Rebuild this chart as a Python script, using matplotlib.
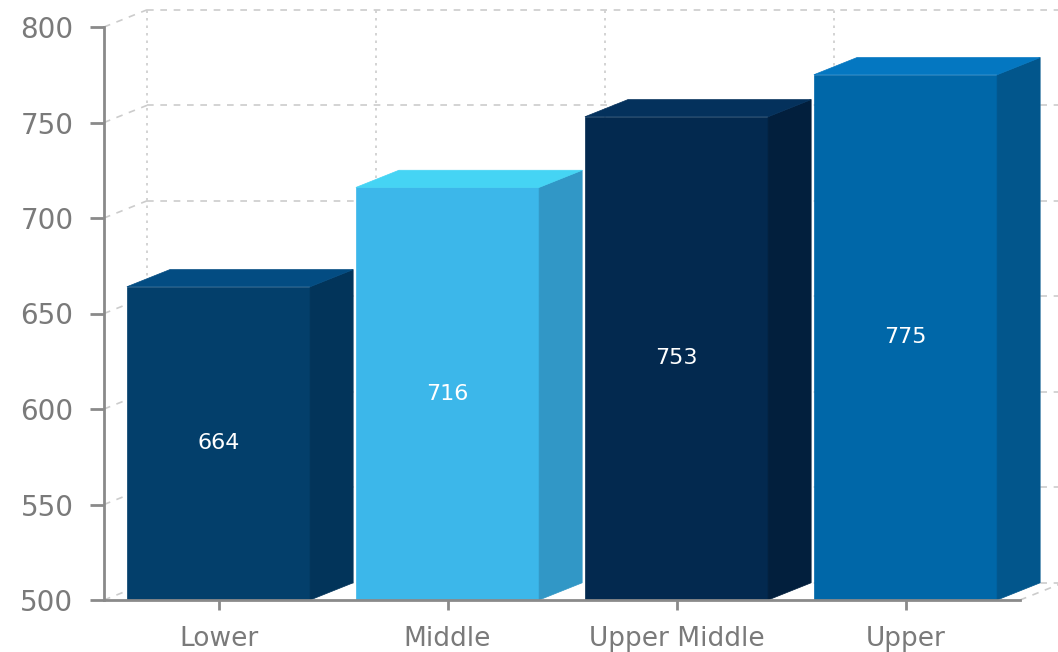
import matplotlib.pyplot as plt
from matplotlib.patches import Polygon, Rectangle

categories = ['Lower', 'Middle', 'Upper Middle', 'Upper']
values = [664, 716, 753, 775]
y_ticks = [500, 550, 600, 650, 700, 750, 800]

front_colors = ['#033f6b', '#3cb7ea', '#03294f', '#0067a8']
side_colors = ['#02345a', '#3197c6', '#021f3d', '#02568c']
top_colors = ['#034c82', '#45d4f4', '#04315c', '#0477c1']

plt.rcParams['font.family'] = ['DejaVu Sans']

fig = plt.figure(figsize=(10.58, 6.52), dpi=100)
ax = fig.add_axes([104 / 1058, 52 / 652, 916 / 1058, 573 / 652])

y0, y1 = 500, 800
ax.set_xlim(-0.5, len(categories) - 0.5)
ax.set_ylim(y0, y1)

# 3d depth
dx, dy = 0.188, 9.0
bw = 0.8
grid_kw = dict(color='#cccccc', lw=1.2, clip_on=False, zorder=1)

# back wall / floor grid
x_left = -0.5
x_right = len(categories) - 0.5
for t in y_ticks:
    ax.plot([x_left, x_left + dx], [t, t + dy], ls=(0, (4, 4)), **grid_kw)
    ax.plot([x_left + dx, x_right + dx + 0.05], [t + dy, t + dy], ls=(0, (4, 4)), **grid_kw)
for k in range(len(categories)):
    xb = x_left + k + dx
    ax.plot([xb, xb], [y0 + dy, y1 + dy], ls=(0, (1.5, 3)), **grid_kw)
ax.plot([x_right, x_right + dx], [y0, y0 + dy], ls=(0, (4, 4)), **grid_kw)

# bars
for i, v in enumerate(values):
    xl = i - bw / 2
    xr = i + bw / 2
    ax.add_patch(Rectangle((xl, y0), bw, v - y0, facecolor=front_colors[i],
                           edgecolor=front_colors[i], lw=0.5, zorder=5, clip_on=False))
    ax.add_patch(Polygon([(xr, y0), (xr + dx, y0 + dy), (xr + dx, v + dy), (xr, v)],
                         closed=True, facecolor=side_colors[i], edgecolor=side_colors[i],
                         lw=0.5, zorder=5, clip_on=False))
    ax.add_patch(Polygon([(xl, v), (xr, v), (xr + dx, v + dy), (xl + dx, v + dy)],
                         closed=True, facecolor=top_colors[i], edgecolor=top_colors[i],
                         lw=0.5, zorder=5, clip_on=False))
    ax.text(i, (y0 + v) / 2, f'{v}', ha='center', va='center', color='white',
            fontsize=16, zorder=6)

# axes styling
for s in ['top', 'right']:
    ax.spines[s].set_visible(False)
for s in ['left', 'bottom']:
    ax.spines[s].set_color('#8a8a8a')
    ax.spines[s].set_linewidth(2)
    ax.spines[s].set_zorder(7)
ax.set_yticks(y_ticks)
ax.set_xticks(range(len(categories)))
ax.set_xticklabels(categories)
ax.tick_params(axis='y', length=10, width=2, color='#8a8a8a', labelcolor='#7a7a7a',
               labelsize=20, pad=12)
ax.tick_params(axis='x', length=7, width=2, color='#8a8a8a', labelcolor='#7a7a7a',
               labelsize=19, pad=12)
ax.set_facecolor('none')

fig.savefig('out.png', dpi=100, facecolor='white')
